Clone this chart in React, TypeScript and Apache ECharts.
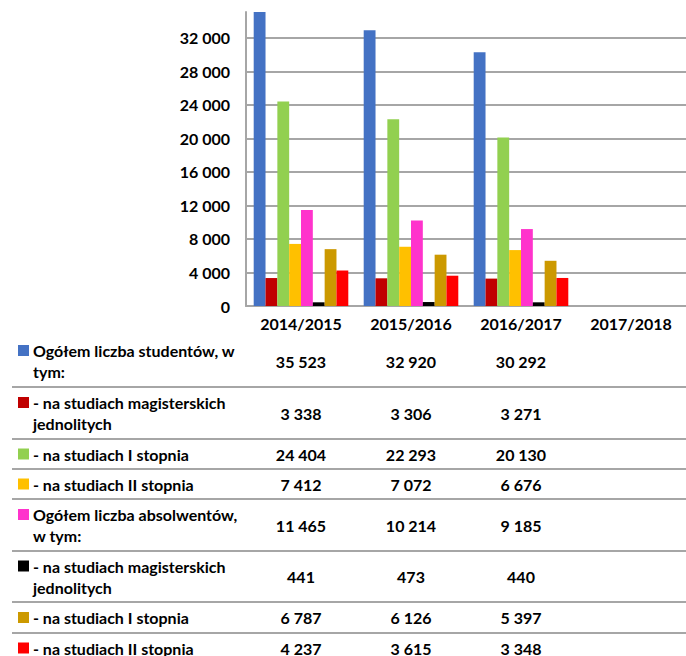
import React, { useEffect, useRef } from "react";
import * as echarts from "echarts";

const categories = ["2014/2015", "2015/2016", "2016/2017", "2017/2018"];

const seriesNames = [
  "Ogółem liczba studentów, w tym:",
  "- na studiach magisterskich jednolitych",
  "- na studiach I stopnia",
  "- na studiach II stopnia",
  "Ogółem liczba absolwentów, w tym:",
  "- na studiach magisterskich jednolitych",
  "- na studiach I stopnia",
  "- na studiach II stopnia",
];

const tableLabels = [
  "Ogółem liczba studentów, w\ntym:",
  "- na studiach magisterskich\njednolitych",
  "- na studiach I stopnia",
  "- na studiach II stopnia",
  "Ogółem liczba absolwentów,\nw tym:",
  "- na studiach magisterskich\njednolitych",
  "- na studiach I stopnia",
  "- na studiach II stopnia",
];

const colors = ["#4472C4", "#C00000", "#92D050", "#FFC000", "#FF33CC", "#000000", "#CC9900", "#FF0000"];

const studentsTotal = [35523, 32920, 30292, null];
const studentsMag = [3338, 3306, 3271, null];
const studentsI = [24404, 22293, 20130, null];
const studentsII = [7412, 7072, 6676, null];
const gradsTotal = [11465, 10214, 9185, null];
const gradsMag = [441, 473, 440, null];
const gradsI = [6787, 6126, 5397, null];
const gradsII = [4237, 3615, 3348, null];

const seriesValues = [studentsTotal, studentsMag, studentsI, studentsII, gradsTotal, gradsMag, gradsI, gradsII];

const yTicks = { min: 0, max: 35100, interval: 4000 };

const rowHeights = [52, 52, 30, 30, 52, 51, 31, 30];
const tableTop = 335;

const FONT = "Lato, 'Open Sans', sans-serif";

function fmt(n: number | null): string {
  if (n === null || n === undefined) return "";
  return String(n).replace(/\B(?=(\d{3})+(?!\d))/g, " ");
}

export default function App() {
  const ref = useRef<HTMLDivElement>(null);
  useEffect(() => {
    document.body.style.margin = "0";
    if (!ref.current) return;
    const chart = echarts.init(ref.current, undefined, { renderer: "svg" });
    chart.setOption({
      animation: false,
      backgroundColor: "#ffffff",
      textStyle: { fontFamily: FONT },
      grid: { left: 246, top: 12, width: 452, height: 294, containLabel: false },
      xAxis: {
        type: "category",
        data: categories,
        axisLine: { show: true, lineStyle: { color: "#a6a6a6", width: 2 } },
        axisTick: { show: false },
        axisLabel: { color: "#000", fontWeight: "bold", fontSize: 16, fontFamily: FONT, margin: 9 },
        splitLine: { show: false },
      },
      yAxis: {
        type: "value",
        min: yTicks.min,
        max: yTicks.max,
        interval: yTicks.interval,
        axisLine: { show: true, lineStyle: { color: "#a6a6a6", width: 2 } },
        axisTick: { show: false },
        axisLabel: {
          color: "#000",
          fontWeight: "bold",
          fontSize: 16,
          fontFamily: FONT,
          margin: 16,
          showMaxLabel: false,
          formatter: (v: number) => (v % yTicks.interval === 0 ? fmt(v) : ""),
        },
        splitLine: { show: true, showMaxLine: false, lineStyle: { color: "#a6a6a6", width: 2 } },
      },
      series: seriesNames.map((name, i) => ({
        name,
        type: "bar",
        data: seriesValues[i],
        itemStyle: { color: colors[i] },
        barGap: "0%",
        barCategoryGap: "14%",
        clip: true,
      })),
    });

    const colX = categories.map((c) => chart.convertToPixel({ xAxisIndex: 0 }, c) as number);
    const graphics: any[] = [];
    let y = tableTop;
    tableLabels.forEach((label, r) => {
      const h = rowHeights[r];
      const cy = y + h / 2;
      const nLines = label.split("\n").length;
      const firstLineY = cy - ((nLines - 1) * 21) / 2;
      graphics.push({
        type: "rect",
        shape: { x: 18, y: firstLineY - 5.5, width: 11, height: 11 },
        style: { fill: colors[r] },
      });
      graphics.push({
        type: "text",
        x: 33,
        y: cy,
        style: {
          text: label,
          font: `bold 16px ${FONT}`,
          fill: "#000",
          align: "left",
          verticalAlign: "middle",
          lineHeight: 21,
        },
      });
      seriesValues[r].forEach((v, c) => {
        if (v === null) return;
        graphics.push({
          type: "text",
          x: colX[c],
          y: cy,
          style: {
            text: fmt(v),
            font: `bold 16px ${FONT}`,
            fill: "#000",
            align: "center",
            verticalAlign: "middle",
          },
        });
      });
      y += h;
      if (r < tableLabels.length - 1) {
        graphics.push({
          type: "line",
          shape: { x1: 12, y1: y, x2: 700, y2: y },
          style: { stroke: "#a6a6a6", lineWidth: 2 },
        });
      }
    });
    chart.setOption({ graphic: graphics });

    return () => chart.dispose();
  }, []);
  return <div ref={ref} style={{ position: "absolute", left: 0, top: 0, width: 686, height: 656 }} />;
}
